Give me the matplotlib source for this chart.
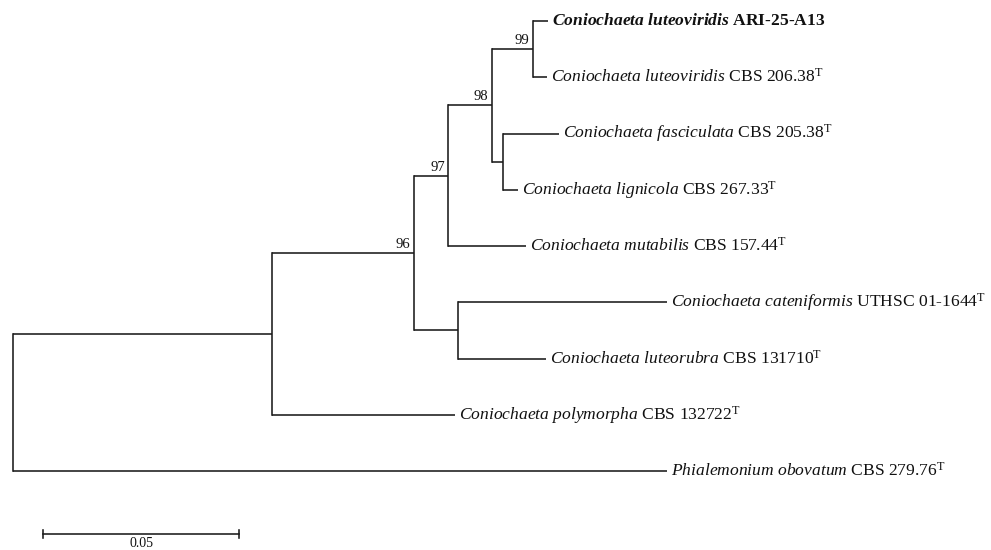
import matplotlib
matplotlib.use("Agg")
import matplotlib.pyplot as plt

# ---- tree data ----
node_names = ["root", "A", "B", "C", "D", "E", "F", "G",
              "ari", "lut206", "fasc", "lign", "mut", "cat", "lrub", "poly", "phial"]
parents = [None, "root", "A", "B", "C", "D", "D", "B",
           "E", "E", "F", "F", "C", "G", "G", "A", "root"]
branch_lengths = [0.0, 0.0661, 0.0362, 0.0087, 0.0112, 0.0105, 0.0028, 0.0112,
                  0.0038, 0.0036, 0.0143, 0.0038, 0.0199, 0.0533, 0.0224, 0.0467, 0.1668]
bootstrap = {"B": "96", "C": "97", "D": "98", "E": "99"}

leaf_order = ["ari", "lut206", "fasc", "lign", "mut", "cat", "lrub", "poly", "phial"]
leaf_species = ["Coniochaeta luteoviridis", "Coniochaeta luteoviridis", "Coniochaeta fasciculata",
                "Coniochaeta lignicola", "Coniochaeta mutabilis", "Coniochaeta cateniformis",
                "Coniochaeta luteorubra", "Coniochaeta polymorpha", "Phialemonium obovatum"]
leaf_strain = ["ARI-25-A13", "CBS 206.38", "CBS 205.38", "CBS 267.33", "CBS 157.44",
               "UTHSC 01-1644", "CBS 131710", "CBS 132722", "CBS 279.76"]
leaf_type = [False, True, True, True, True, True, True, True, True]
leaf_bold = [True, False, False, False, False, False, False, False, False]

scale_value = 0.05
scale_label = "0.05"

# ---- compute layout ----
plt.rcParams["font.family"] = ["Liberation Serif", "DejaVu Serif"]
plt.rcParams["mathtext.fontset"] = "custom"
plt.rcParams["mathtext.rm"] = "Liberation Serif"
plt.rcParams["mathtext.it"] = "Liberation Serif:italic"
plt.rcParams["mathtext.bf"] = "Liberation Serif:bold"
plt.rcParams["mathtext.bfit"] = "Liberation Serif:bold:italic"

par = dict(zip(node_names, parents))
bl = dict(zip(node_names, branch_lengths))
children = {n: [] for n in node_names}
for n, p in par.items():
    if p is not None:
        children[p].append(n)

xpos = {}
def setx(n, x0):
    xpos[n] = x0 + bl[n]
    for c in children[n]:
        setx(c, xpos[n])
setx("root", 0.0)

ypos = {n: i for i, n in enumerate(leaf_order)}
def sety(n):
    if n in ypos:
        return ypos[n]
    ys = [sety(c) for c in children[n]]
    ypos[n] = (min(ys) + max(ys)) / 2
    return ypos[n]
sety("root")

W, H = 991, 550
fig = plt.figure(figsize=(W / 100, H / 100), dpi=100)
ax = fig.add_axes([0, 0, 1, 1])
px_per_unit = 3920.0
root_px = 13
ax.set_xlim(-root_px / px_per_unit, (W - root_px) / px_per_unit)
y0px, ystep = 21.0, 56.25
ax.set_ylim((H - y0px) / ystep, -y0px / ystep)
ax.axis("off")

lw = 1.15
col = "#1a1a1a"
for n in node_names:
    p = par[n]
    if p is not None:
        ax.plot([xpos[p], xpos[n]], [ypos[n], ypos[n]], color=col, lw=lw, solid_capstyle="butt")
    if children[n]:
        ys = [ypos[c] for c in children[n]]
        ax.plot([xpos[n], xpos[n]], [min(ys), max(ys)], color=col, lw=lw, solid_capstyle="projecting")

dx = 4 / px_per_unit
fs = 12.6
for i, n in enumerate(leaf_order):
    sp = leaf_species[i].replace(" ", r"\ ")
    if leaf_bold[i]:
        s = r"$\mathbfit{" + sp + "}$ " + leaf_strain[i]
    else:
        s = r"$\mathit{" + sp + "}$ " + leaf_strain[i]
    if leaf_type[i]:
        s += r"$^{\mathrm{T}}$"
    ax.text(xpos[n] + dx, ypos[n], s, fontsize=fs, va="center", ha="left",
            fontweight="bold" if leaf_bold[i] else "normal", color="#111111")

for n, b in bootstrap.items():
    ax.annotate(b, (xpos[n], ypos[n]), xytext=(-2.5, 1.5), textcoords="offset points",
                ha="right", va="bottom", fontsize=10.5, color="#111111")

# scale bar
sb_x0 = 30 / px_per_unit
sb_y = (534 - y0px) / ystep
tick = 3.5 / ystep
ax.plot([sb_x0, sb_x0 + scale_value], [sb_y, sb_y], color=col, lw=lw)
ax.plot([sb_x0, sb_x0], [sb_y - tick, sb_y + tick], color=col, lw=lw)
ax.plot([sb_x0 + scale_value] * 2, [sb_y - tick, sb_y + tick], color=col, lw=lw)
ax.annotate(scale_label, (sb_x0 + scale_value / 2, sb_y), xytext=(0, -2.5), textcoords="offset points",
            ha="center", va="top", fontsize=10, color="#111111")

fig.savefig("out.png", dpi=100)
